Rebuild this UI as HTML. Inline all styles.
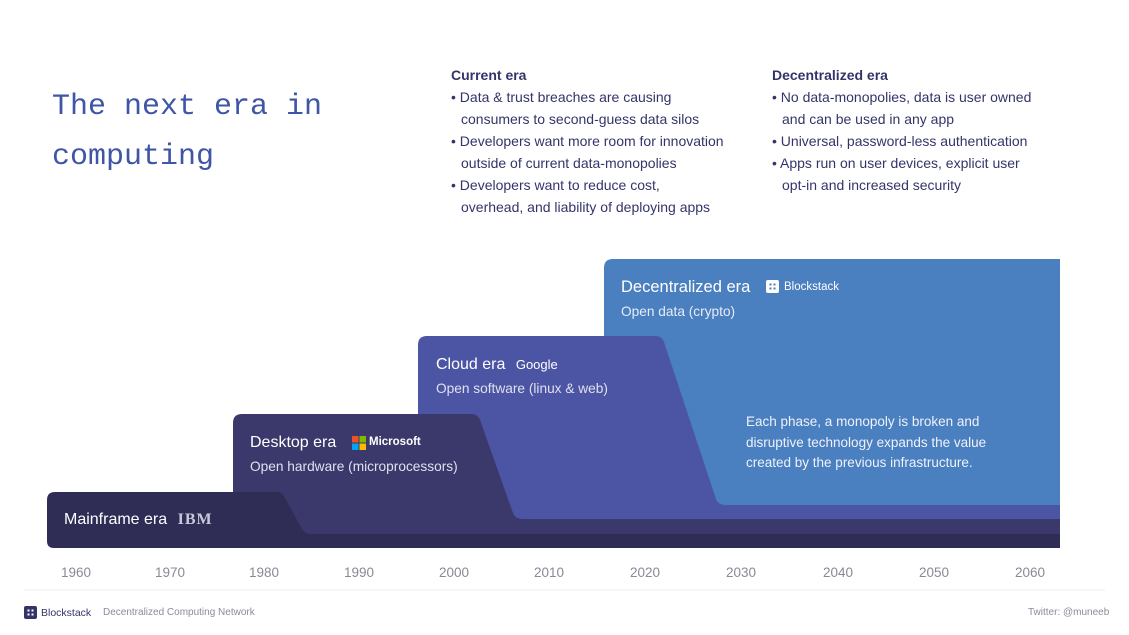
<!DOCTYPE html>
<html><head><meta charset="utf-8"><style>
body{margin:0;width:1129px;height:635px;background:#fff;position:relative;overflow:hidden;font-family:"Liberation Sans",sans-serif;}
.t{position:absolute;white-space:nowrap;}
.title{left:52px;top:82px;font-family:"Liberation Mono",monospace;font-size:30px;line-height:50px;color:#3f55a5;}
.col{position:absolute;top:64px;font-size:14px;line-height:22px;color:#34346a;}
.col h4{margin:0;font-size:14px;font-weight:bold;}
.col div{padding-left:10px;text-indent:-10px;}
.w{color:#fff;}
.yr{position:absolute;top:565px;font-size:13.5px;color:#888a96;width:60px;text-align:center;}
</style></head><body>
<div class="t title">The next era in<br>computing</div>
<div class="col" style="left:451px;width:300px"><h4>Current era</h4>
<div>• Data &amp; trust breaches are causing<br>consumers to second-guess data silos</div>
<div>• Developers want more room for innovation<br>outside of current data-monopolies</div>
<div>• Developers want to reduce cost,<br>overhead, and liability of deploying apps</div></div>
<div class="col" style="left:772px;width:300px"><h4>Decentralized era</h4>
<div>• No data-monopolies, data is user owned<br>and can be used in any app</div>
<div>• Universal, password-less authentication</div>
<div>• Apps run on user devices, explicit user<br>opt-in and increased security</div></div>

<svg style="position:absolute;left:0;top:0" width="1129" height="635">
<path d="M604,268 Q604,259 613,259 L1060,259 L1060,548 L604,548Z" fill="#4a7fc0"/>
<path d="M418,345 Q418,336 427,336 L655,336 Q662,336 664,342 L716,499 Q718,505 726,505 L1060,505 L1060,548 L418,548Z" fill="#4c55a3"/>
<path d="M233,423 Q233,414 242,414 L471,414 Q478,414 480,420 L513,513 Q515,519 523,519 L1060,519 L1060,548 L233,548Z" fill="#3b396b"/>
<path d="M47,500 Q47,492 55,492 L276,492 Q283,492 285,498 L302,529 Q305,534 312,534 L1060,534 L1060,548 L54,548 Q47,548 47,541Z" fill="#2f2d55"/>
<line x1="24" y1="590" x2="1105" y2="590" stroke="#eeeef2"/>
<rect x="24" y="606" width="13" height="13" rx="2" fill="#34346a"/>
<g fill="#fff"><rect x="27.5" y="609.5" width="2" height="2"/><rect x="31.5" y="609.5" width="2" height="2"/><rect x="27.5" y="613.5" width="2" height="2"/><rect x="31.5" y="613.5" width="2" height="2"/></g>
<rect x="766" y="280" width="13" height="13" rx="2" fill="#fff"/>
<g fill="#4a7fc0"><rect x="769.5" y="283.5" width="2" height="2"/><rect x="773.5" y="283.5" width="2" height="2"/><rect x="769.5" y="287.5" width="2" height="2"/><rect x="773.5" y="287.5" width="2" height="2"/></g>
<rect x="352" y="436" width="6.5" height="6.5" fill="#f25022"/><rect x="359.5" y="436" width="6.5" height="6.5" fill="#7fba00"/>
<rect x="352" y="443.5" width="6.5" height="6.5" fill="#00a4ef"/><rect x="359.5" y="443.5" width="6.5" height="6.5" fill="#ffb900"/>
</svg>

<div class="t w" style="left:64px;top:511px;font-size:16px">Mainframe era <span style="font-family:'Liberation Serif',serif;font-weight:bold;color:#c8c8d8;letter-spacing:1px;margin-left:6px">IBM</span></div>
<div class="t w" style="left:250px;top:434px;font-size:16px">Desktop era</div>
<div class="t w" style="left:369px;top:436px;font-size:11.5px;font-weight:bold">Microsoft</div>
<div class="t" style="left:250px;top:459px;font-size:13.7px;color:#e0e0ee">Open hardware (microprocessors)</div>
<div class="t w" style="left:436px;top:356px;font-size:16px">Cloud era <span style="font-size:13px;margin-left:6px">Google</span></div>
<div class="t" style="left:436px;top:381px;font-size:13.7px;color:#e0e0ee">Open software (linux &amp; web)</div>
<div class="t w" style="left:621px;top:278px;font-size:16.5px">Decentralized era</div>
<div class="t w" style="left:784px;top:281px;font-size:11.5px">Blockstack</div>
<div class="t" style="left:621px;top:304px;font-size:13.7px;color:#e6ecf6">Open data (crypto)</div>
<div class="t" style="left:746px;top:412px;font-size:13.5px;line-height:20.5px;color:#eef2fa">Each phase, a monopoly is broken and<br>disruptive technology expands the value<br>created by the previous infrastructure.</div>

<div class="yr" style="left:46px">1960</div><div class="yr" style="left:140px">1970</div><div class="yr" style="left:234px">1980</div>
<div class="yr" style="left:329px">1990</div><div class="yr" style="left:424px">2000</div><div class="yr" style="left:519px">2010</div>
<div class="yr" style="left:615px">2020</div><div class="yr" style="left:711px">2030</div><div class="yr" style="left:808px">2040</div>
<div class="yr" style="left:904px">2050</div><div class="yr" style="left:1000px">2060</div>

<div class="t" style="left:41px;top:607px;font-size:10.5px;color:#34346a">Blockstack</div>
<div class="t" style="left:103px;top:607px;font-size:10px;color:#8a8c98">Decentralized Computing Network</div>
<div class="t" style="left:1028px;top:607px;font-size:10px;color:#8a8c98">Twitter: @muneeb</div>
</body></html>
